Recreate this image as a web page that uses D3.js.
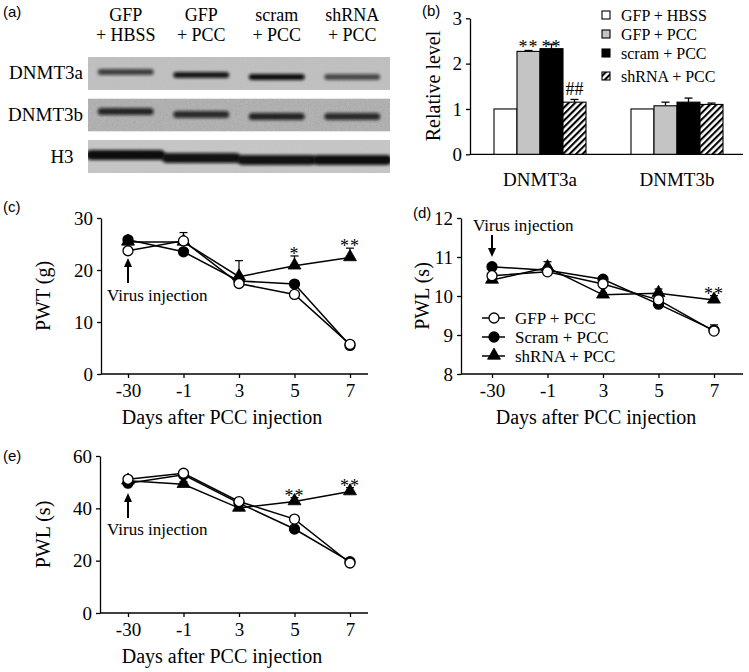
<!DOCTYPE html>
<html>
<head>
<meta charset="utf-8">
<script src="https://cdn.jsdelivr.net/npm/d3@7"></script>
<style>
body { margin: 0; background: #fff; }
svg text { font-family: "Liberation Serif", "Times New Roman", serif; fill: #000; }
svg text.plab { font-family: "Liberation Sans", Arial, sans-serif; font-size: 15px; }
</style>
</head>
<body>
<svg id="fig" width="749" height="672" font-family="Liberation Serif"></svg>
<script>
// ---- panel (a): western blot ----
var laneTop = ["GFP", "GFP", "scram", "shRNA"];
var laneBottom = ["+ HBSS", "+ PCC", "+ PCC", "+ PCC"];
var blotRows = ["DNMT3a", "DNMT3b", "H3"];
var bandDnmt3a = [0.72, 0.95, 1.0, 0.66];   // band darkness per lane
var bandDnmt3b = [0.85, 0.82, 0.86, 0.82];
var bandH3 = [1.0, 0.97, 0.97, 1.0];

// ---- panel (b): relative level ----
var genes = ["DNMT3a", "DNMT3b"];
var barGroups = ["GFP + HBSS", "GFP + PCC", "scram + PCC", "shRNA + PCC"];
var relDnmt3a = [1.0, 2.27, 2.33, 1.15];
var relDnmt3aErr = [0, 0.02, 0.1, 0.06];
var relDnmt3b = [1.0, 1.07, 1.15, 1.10];
var relDnmt3bErr = [0, 0.08, 0.09, 0.03];
var relMarks = ["", "**", "**", "##"];

// ---- panels (c)-(e): time courses ----
var days = ["-30", "-1", "3", "5", "7"];
var lineGroups = ["GFP + PCC", "Scram + PCC", "shRNA + PCC"];

var pwtGfp = [23.7, 25.6, 17.4, 15.3, 5.7];
var pwtGfpErr = [0.4, 1.6, 0.5, 0.6, 0.4];
var pwtScram = [25.8, 23.5, 17.9, 17.3, 5.5];
var pwtScramErr = [0.4, 0.5, 0.5, 0.5, 0.4];
var pwtShrna = [25.4, 25.4, 18.7, 20.8, 22.4];
var pwtShrnaErr = [0.4, 0.5, 3.1, 1.9, 1.8];
var pwtStars = ["", "", "", "*", "**"];

var pwlGfp = [10.52, 10.62, 10.31, 9.90, 9.10];
var pwlGfpErr = [0.05, 0.05, 0.05, 0.05, 0.16];
var pwlScram = [10.75, 10.66, 10.43, 9.79, 9.12];
var pwlScramErr = [0.05, 0.05, 0.05, 0.05, 0.05];
var pwlShrna = [10.41, 10.73, 10.03, 10.07, 9.90];
var pwlShrnaErr = [0.05, 0.15, 0.05, 0.11, 0.11];
var pwlStars = ["", "", "", "", "**"];

var pwl2Gfp = [51.1, 53.4, 42.6, 35.9, 19.1];
var pwl2GfpErr = [1.0, 1.0, 1.0, 1.0, 1.0];
var pwl2Scram = [49.6, 52.8, 42.0, 32.1, 19.6];
var pwl2ScramErr = [1.0, 1.0, 1.0, 1.0, 1.0];
var pwl2Shrna = [50.5, 49.2, 40.1, 42.6, 46.4];
var pwl2ShrnaErr = [1.0, 1.0, 1.0, 1.5, 1.5];
var pwl2Stars = ["", "", "", "**", "**"];

var svg = d3.select("#fig");
var defs = svg.append("defs");

defs.append("filter").attr("id", "soft")
	.attr("x", "-30%").attr("y", "-150%").attr("width", "160%").attr("height", "400%")
	.append("feGaussianBlur").attr("stdDeviation", 1.4);

var grain = defs.append("filter").attr("id", "grain")
	.attr("x", 0).attr("y", 0).attr("width", "100%").attr("height", "100%");
grain.append("feTurbulence").attr("type", "fractalNoise")
	.attr("baseFrequency", 0.75).attr("numOctaves", 2).attr("seed", 7);
grain.append("feColorMatrix").attr("type", "saturate").attr("values", 0);

var hatch = defs.append("pattern").attr("id", "hatch")
	.attr("patternUnits", "userSpaceOnUse")
	.attr("width", 4.6).attr("height", 4.6)
	.attr("patternTransform", "rotate(45)");
hatch.append("rect").attr("width", 4.6).attr("height", 4.6).attr("fill", "#fff");
hatch.append("rect").attr("width", 2.1).attr("height", 4.6).attr("fill", "#000");

function panelLabel(x, y, s){
	svg.append("text").attr("class", "plab").attr("x", x).attr("y", y).text(s);
}

function styleAxis(sel, size){
	sel.attr("font-family", null).attr("font-size", null);
	sel.selectAll("text").style("font-size", size + "px");
	sel.selectAll("path, line").attr("stroke", "#000").attr("stroke-width", 1.3);
}

//------------------------------------------------------------ (a)
panelLabel(3, 17, "(a)");
var blot = svg.append("g");
var lane = d3.scaleBand().domain(d3.range(4)).range([88, 390]);
var rowBand = d3.scaleBand().domain(blotRows).range([57, 173]).paddingInner(0.205);
var bandSets = [bandDnmt3a, bandDnmt3b, bandH3];
var boxFill = ["#c0c0c0", "#aeaeae", "#c6c6c6"];
var smile = [0, 3, 5, 5];

laneTop.forEach(function(t, i){
	var cx = lane(i) + lane.bandwidth() / 2;
	blot.append("text").attr("x", cx).attr("y", 21).attr("text-anchor", "middle")
		.style("font-size", "18px").text(t);
	blot.append("text").attr("x", cx).attr("y", 41).attr("text-anchor", "middle")
		.style("font-size", "18px").text(laneBottom[i]);
});

blotRows.forEach(function(r, ri){
	var y0 = rowBand(r), h = rowBand.bandwidth();
	defs.append("clipPath").attr("id", "clip" + ri)
		.append("rect").attr("x", lane.range()[0]).attr("y", y0)
		.attr("width", lane.range()[1] - lane.range()[0]).attr("height", h);
	var rg = blot.append("g").attr("clip-path", "url(#clip" + ri + ")");
	rg.append("rect").attr("x", lane.range()[0]).attr("y", y0)
		.attr("width", lane.range()[1] - lane.range()[0]).attr("height", h)
		.attr("fill", boxFill[ri]);
	rg.append("rect").attr("x", lane.range()[0]).attr("y", y0)
		.attr("width", lane.range()[1] - lane.range()[0]).attr("height", h)
		.attr("filter", "url(#grain)").attr("opacity", ri === 1 ? 0.35 : 0.12);
	bandSets[ri].forEach(function(v, li){
		var cx = lane(li) + lane.bandwidth() / 2;
		var w = ri === 2 ? lane.bandwidth() * 1.05 : lane.bandwidth() * 0.74;
		var bh = ri === 2 ? 10 : (ri === 0 ? 6 : 7);
		var cy = y0 + (ri === 1 ? 13 : 15) + smile[li];
		rg.append("rect").attr("x", cx - w / 2).attr("y", cy - bh / 2)
			.attr("width", w).attr("height", bh).attr("rx", bh / 2)
			.attr("fill", "#0a0a0a").attr("opacity", v).attr("filter", "url(#soft)");
	});
	var lab = blot.append("text").attr("y", y0 + h / 2 + 6).style("font-size", "19px").text(r);
	if (ri === 2) lab.attr("x", 62).attr("text-anchor", "middle");
	else lab.attr("x", 83).attr("text-anchor", "end");
});

//------------------------------------------------------------ (b)
panelLabel(422, 16, "(b)");
var gb = svg.append("g");
var x0 = d3.scaleBand().domain(genes).range([494, 723]).paddingInner(45 / 137);
var x1 = d3.scaleBand().domain(barGroups).range([0, x0.bandwidth()]);
var yb = d3.scaleLinear().domain([0, 3]).range([154.3, 18.3]);
var barFill = ["#fff", "#c4c4c4", "#000", "url(#hatch)"];

gb.append("g").attr("transform", "translate(470,0)")
	.call(d3.axisLeft(yb).ticks(3).tickFormat(d3.format("d")).tickSize(4).tickPadding(4).tickSizeOuter(0))
	.call(styleAxis, 19);
gb.append("line").attr("x1", 470).attr("x2", 743).attr("y1", yb(0)).attr("y2", yb(0))
	.attr("stroke", "#000").attr("stroke-width", 1.3);

[relDnmt3a, relDnmt3b].forEach(function(vals, gi){
	var errs = gi === 0 ? relDnmt3aErr : relDnmt3bErr;
	var gx = x0(genes[gi]);
	vals.forEach(function(v, i){
		var bx = gx + x1(barGroups[i]), bw = x1.bandwidth();
		if (errs[i] > 0){
			gb.append("line").attr("x1", bx + bw / 2).attr("x2", bx + bw / 2)
				.attr("y1", yb(v)).attr("y2", yb(v + errs[i])).attr("stroke", "#000").attr("stroke-width", 1.3);
			gb.append("line").attr("x1", bx + bw / 2 - 4).attr("x2", bx + bw / 2 + 4)
				.attr("y1", yb(v + errs[i])).attr("y2", yb(v + errs[i])).attr("stroke", "#000").attr("stroke-width", 1.3);
		}
		gb.append("rect").attr("x", bx).attr("y", yb(v)).attr("width", bw).attr("height", yb(0) - yb(v))
			.attr("fill", barFill[i]).attr("stroke", "#000").attr("stroke-width", 1.1);
	});
	gb.append("text").attr("x", gx + x0.bandwidth() / 2).attr("y", 186)
		.attr("text-anchor", "middle").style("font-size", "19px").text(genes[gi]);
});

// significance marks over DNMT3a bars
var starTop = d3.max(relDnmt3a.map(function(v, i){ return relMarks[i] === "**" ? v + relDnmt3aErr[i] : 0; }));
relMarks.forEach(function(m, i){
	if (!m) return;
	var bx = x0(genes[0]) + x1(barGroups[i]) + x1.bandwidth() / 2;
	var yy = m === "**" ? yb(starTop) + 9 : yb(relDnmt3a[i] + relDnmt3aErr[i]) - 4;
	gb.append("text").attr("x", bx).attr("y", yy).attr("text-anchor", "middle")
		.style("font-size", "18px").style("letter-spacing", m === "**" ? "1px" : "0px").text(m);
});

gb.append("text").attr("transform", "translate(440,86) rotate(-90)")
	.attr("text-anchor", "middle").style("font-size", "20px").text("Relative level");

var legB = gb.append("g");
var legRowY = [15, 34, 53, 76];
barGroups.forEach(function(s, i){
	legB.append("rect").attr("x", 602).attr("y", legRowY[i] - 4).attr("width", 8).attr("height", 8)
		.attr("fill", barFill[i]).attr("stroke", "#000").attr("stroke-width", 1.1);
	legB.append("text").attr("x", 621).attr("y", legRowY[i] + 5.5).style("font-size", "16px").text(s);
});

//------------------------------------------------------------ (c)-(e)
var seriesStyle = [
	{ fill: "#fff", sym: "circle" },
	{ fill: "#000", sym: "circle" },
	{ fill: "#000", sym: "triangle" }
];

function drawMarker(g, sym, fill, cx, cy){
	if (sym === "circle"){
		g.append("circle").attr("cx", cx).attr("cy", cy).attr("r", 5)
			.attr("fill", fill).attr("stroke", "#000").attr("stroke-width", 1.3);
	} else {
		g.append("path").attr("d", d3.symbol(d3.symbolTriangle, 72)())
			.attr("transform", "translate(" + cx + "," + (cy - 0.5) + ")")
			.attr("fill", fill).attr("stroke", "#000").attr("stroke-width", 0.8);
	}
}

function linePanel(o){
	var g = svg.append("g");
	var x = d3.scalePoint().domain(days).range(o.xr);
	var y = d3.scaleLinear().domain(o.yd).range([o.bottom, o.top]);

	g.append("g").attr("transform", "translate(" + o.left + ",0)")
		.call(d3.axisLeft(y).tickValues(o.ticks).tickFormat(d3.format("d")).tickSize(4).tickPadding(4).tickSizeOuter(0))
		.call(styleAxis, 19);
	var xa = g.append("g").attr("transform", "translate(0," + o.bottom + ")")
		.call(d3.axisBottom(x).tickSize(4).tickPadding(6))
		.call(styleAxis, 19);
	xa.select(".domain").remove();
	g.append("line").attr("x1", o.left).attr("x2", o.right).attr("y1", o.bottom).attr("y2", o.bottom)
		.attr("stroke", "#000").attr("stroke-width", 1.3);

	var line = d3.line().x(function(d, i){ return x(days[i]); }).y(function(d){ return y(d); });
	o.series.forEach(function(s){
		g.append("path").attr("d", line(s.v)).attr("fill", "none").attr("stroke", "#000").attr("stroke-width", 1.5);
	});
	o.series.forEach(function(s){
		s.v.forEach(function(v, i){
			var cx = x(days[i]);
			g.append("line").attr("x1", cx).attr("x2", cx).attr("y1", y(v)).attr("y2", y(v + s.e[i]))
				.attr("stroke", "#000").attr("stroke-width", 1.2);
			g.append("line").attr("x1", cx - 4).attr("x2", cx + 4).attr("y1", y(v + s.e[i])).attr("y2", y(v + s.e[i]))
				.attr("stroke", "#000").attr("stroke-width", 1.2);
		});
	});
	// draw triangles first, open circles last
	[2, 1, 0].forEach(function(k){
		var s = o.series[k];
		s.v.forEach(function(v, i){ drawMarker(g, seriesStyle[k].sym, seriesStyle[k].fill, x(days[i]), y(v)); });
	});

	var sh = o.series[2];
	o.stars.forEach(function(m, i){
		if (!m) return;
		g.append("text").attr("x", x(days[i])).attr("y", y(sh.v[i] + sh.e[i]) + 4)
			.attr("text-anchor", "middle").style("font-size", "18px").style("letter-spacing", "1px").text(m);
	});

	g.append("text").attr("transform", "translate(" + o.ylabX + "," + (o.top + o.bottom) / 2 + ") rotate(-90)")
		.attr("text-anchor", "middle").style("font-size", "20px").text(o.ylab);
	g.append("text").attr("x", o.xlabX).attr("y", o.bottom + 50)
		.attr("text-anchor", "middle").style("font-size", "20px").text("Days after PCC injection");

	// virus injection arrow at day -30
	var ax = x(days[0]);
	var up = o.arrowDir === "up";
	var tip = o.arrowTip, tail = o.arrowTail;
	g.append("line").attr("x1", ax).attr("x2", ax).attr("y1", tail).attr("y2", up ? tip + 7 : tip - 7)
		.attr("stroke", "#000").attr("stroke-width", 2);
	g.append("path").attr("d", up
			? "M" + (ax - 4) + "," + (tip + 9) + "L" + ax + "," + tip + "L" + (ax + 4) + "," + (tip + 9) + "Z"
			: "M" + (ax - 4) + "," + (tip - 9) + "L" + ax + "," + tip + "L" + (ax + 4) + "," + (tip - 9) + "Z")
		.attr("fill", "#000");
	g.append("text").attr("x", o.virusX).attr("y", o.virusY).style("font-size", "17px").text("Virus injection");
	return { g: g, x: x, y: y };
}

panelLabel(3, 212, "(c)");
linePanel({
	left: 101, right: 368, top: 218, bottom: 374, xr: [128, 350], yd: [0, 30], ticks: [0, 10, 20, 30],
	series: [{ v: pwtGfp, e: pwtGfpErr }, { v: pwtScram, e: pwtScramErr }, { v: pwtShrna, e: pwtShrnaErr }],
	stars: pwtStars, ylab: "PWT (g)", ylabX: 50, xlabX: 222,
	arrowDir: "up", arrowTip: 258, arrowTail: 283, virusX: 107, virusY: 301
});

panelLabel(413, 218, "(d)");
linePanel({
	left: 461, right: 743, top: 218, bottom: 374, xr: [492, 714], yd: [8, 12], ticks: [8, 9, 10, 11, 12],
	series: [{ v: pwlGfp, e: pwlGfpErr }, { v: pwlScram, e: pwlScramErr }, { v: pwlShrna, e: pwlShrnaErr }],
	stars: pwlStars, ylab: "PWL (s)", ylabX: 429, xlabX: 596,
	arrowDir: "down", arrowTip: 257, arrowTail: 235, virusX: 473, virusY: 231
});

var legD = svg.append("g");
var legDY = [318, 337, 356];
lineGroups.forEach(function(s, i){
	legD.append("line").attr("x1", 482).attr("x2", 505).attr("y1", legDY[i]).attr("y2", legDY[i])
		.attr("stroke", "#000").attr("stroke-width", 1.5);
	drawMarker(legD, seriesStyle[i].sym, seriesStyle[i].fill, 494, legDY[i]);
	legD.append("text").attr("x", 515).attr("y", legDY[i] + 5.5).style("font-size", "17px").text(s);
});

panelLabel(3, 461, "(e)");
linePanel({
	left: 100, right: 368, top: 456, bottom: 613, xr: [128, 350], yd: [0, 60], ticks: [0, 20, 40, 60],
	series: [{ v: pwl2Gfp, e: pwl2GfpErr }, { v: pwl2Scram, e: pwl2ScramErr }, { v: pwl2Shrna, e: pwl2ShrnaErr }],
	stars: pwl2Stars, ylab: "PWL (s)", ylabX: 50, xlabX: 222,
	arrowDir: "up", arrowTip: 493, arrowTail: 518, virusX: 107, virusY: 535
});
</script>
</body>
</html>
